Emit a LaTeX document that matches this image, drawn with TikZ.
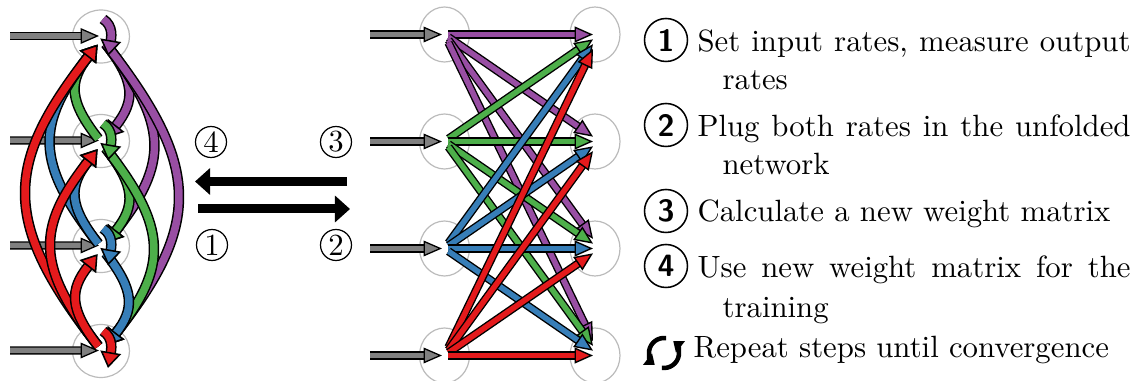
\documentclass[tikz,border=0pt]{standalone}
\usetikzlibrary{arrows.meta,calc,shapes.geometric}
% one drawing unit = 0.325pt
\newlength{\upx}\setlength{\upx}{0.325pt}
\definecolor{cpurple}{HTML}{984EA3}
\definecolor{cgreen}{HTML}{4DAF4A}
\definecolor{cblue}{HTML}{377EB8}
\definecolor{cred}{HTML}{E41A1C}
\definecolor{cgray}{HTML}{808080}
\definecolor{ring}{HTML}{BBBBBB}
\tikzset{
  unit/.style={draw=ring, line width=1.2\upx, ellipse, inner sep=0pt},
  lunit/.style={unit, minimum width=57\upx, minimum height=53\upx},
  runit/.style={unit, minimum width=50\upx, minimum height=55\upx},
  feed/.style={draw=black, line width=1.3\upx, double=cgray, double distance=5.5\upx,
    -{Triangle[length=6pt, width=5.1pt, fill=cgray, line width'=0.42pt]}},
  wide/.style={draw=black, line width=1.4\upx, double=#1, double distance=5.5\upx,
    -{Triangle[length=6pt, width=5.2pt, fill=#1, line width'=0.45pt]}},
  rec/.style={draw=black, line width=1.5\upx, double=#1, double distance=7.5\upx,
    shorten <=6\upx, shorten >=7\upx,
    -{Triangle[length=5.2pt, width=6.8pt, fill=#1, line width'=0.5pt]}},
  big/.style={line width=9\upx, -{Triangle[length=4.9pt, width=8.45pt]}},
  stepmark/.style={circle, draw, line width=0.4pt, inner sep=0pt, minimum size=31\upx},
  listmark/.style={circle, draw, line width=0.5pt, inner sep=0pt, minimum size=43\upx,
    font=\sffamily\bfseries},
  txt/.style={anchor=base west, inner sep=0pt},
  turn/.style={line width=4.5\upx, -{Triangle[length=3pt, width=4.6pt]}},
}
\begin{document}
\begin{tikzpicture}[x=\upx, y=-\upx]
\useasboundingbox (0,0) rectangle (1141,381);

% ---- folded (recurrent) network ----
\foreach \k/\y in {1/36.5, 2/141, 3/246, 4/351} {
  \node[lunit] (l\k) at (101,\y) {};
  \coordinate (in\k) at (10,\y-0.5);
}
\coordinate (c1) at (102,39);
\coordinate (c2) at (102,143.5);
\coordinate (c3) at (102,248.5);
\coordinate (c4) at (102,351);
\foreach \k in {1,...,4} {
  \coordinate (o\k) at ($(c\k)+(1,-20)$);
  \coordinate (e\k) at ($(c\k)+(6,17)$);
  \draw[feed] (in\k) -- ($(l\k.center)+(-2,-0.5)$);
}
\foreach \i/\col in {1/cpurple, 2/cgreen, 3/cblue, 4/cred} {
  \foreach \j in {1,...,4} {
    \ifnum\i=\j\relax\else
      \draw[rec=\col] (c\i) to[bend left=38, looseness=1.33] (c\j);
    \fi
  }
}
\foreach \k/\col in {1/cpurple, 2/cgreen, 3/cblue, 4/cred} {
  \draw[rec=\col, shorten <=0pt, shorten >=0pt]
    (o\k) .. controls ($(c\k)+(12,-13)$) and ($(c\k)+(9,0)$) .. (e\k);
}

% ---- step markers and exchange arrows ----
\node[stepmark] (s4) at (211,142) {4};
\node[stepmark] (s3) at (336,142) {3};
\node[stepmark] (s1) at (212,245) {1};
\node[stepmark] (s2) at (336,245) {2};
\coordinate (bl1) at (347,181.5);
\coordinate (bl2) at (195,181.5);
\coordinate (br1) at (198,209);
\coordinate (br2) at (350,209);
\draw[big] (bl1) -- (bl2);
\draw[big] (br1) -- (br2);

% ---- unfolded network ----
\foreach \k/\y in {1/34.5, 2/141.5, 3/248.5, 4/355.5} {
  \node[runit] (p\k) at (444.5,\y) {};
  \node[runit] (q\k) at (595,\y) {};
  \coordinate (qa\k) at (600,\y);
  \coordinate (pin\k) at (370,\y);
  \draw[feed] (pin\k) -- ($(p\k.center)+(-2.5,0)$);
}
\foreach \i/\col in {1/cpurple, 2/cgreen, 3/cblue, 4/cred} {
  \foreach \j in {1,...,4} {
    \draw[wide=\col] ($(p\i)!0.0256!(qa\j)$) -- ($(p\i)!0.955!(qa\j)$);
  }
}

% ---- procedure ----
\node[listmark] (m1) at (666,40) {1};
\node[txt] (t1a) at (697,52) {\makebox[140.7pt][s]{Set input rates, measure output}};
\node[txt] (t1b) at (722,90) {rates};
\node[listmark] (m2) at (666,125) {2};
\node[txt] (t2a) at (697,137) {\makebox[140.7pt][s]{Plug both rates in the unfolded}};
\node[txt] (t2b) at (722,175) {network};
\node[listmark] (m3) at (666,211) {3};
\node[txt] (t3) at (697,222) {Calculate a new weight matrix};
\node[listmark] (m4) at (666,266) {4};
\node[txt] (t4a) at (697,278) {\makebox[140.7pt][s]{Use new weight matrix for the}};
\node[txt] (t4b) at (722,318) {training};
\node[txt] (t5) at (693,358) {Repeat steps until convergence};
\begin{scope}[shift={(664,353)}, x=\upx, y=\upx]
  \draw[turn] (82:15) arc[start angle=82, end angle=232, radius=15\upx];
  \draw[turn] (262:15) arc[start angle=262, end angle=412, radius=15\upx];
\end{scope}
\end{tikzpicture}
\end{document}
